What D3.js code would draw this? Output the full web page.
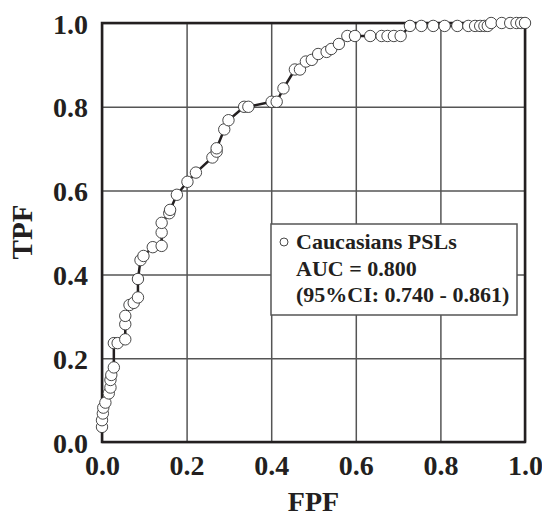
<!DOCTYPE html>
<html>
<head>
<meta charset="utf-8">
<script src="https://cdn.jsdelivr.net/npm/d3@7"></script>
<style>
  body { margin: 0; background: #fff; }
  text { font-family: 'Liberation Serif', 'Times New Roman', serif; font-weight: bold; fill: #231f20; }
</style>
</head>
<body>
<div id="chart"></div>
<script>
var fpf = [0.000, 0.000, 0.002, 0.003, 0.008, 0.016, 0.020, 0.020, 0.022, 0.028,
  0.028, 0.037, 0.055, 0.055, 0.055, 0.065, 0.075, 0.085, 0.085, 0.091,
  0.098, 0.120, 0.141, 0.141, 0.141, 0.159, 0.161, 0.177, 0.202, 0.222,
  0.261, 0.271, 0.271, 0.289, 0.299, 0.336, 0.346, 0.401, 0.413, 0.429,
  0.456, 0.468, 0.482, 0.496, 0.511, 0.531, 0.542, 0.560, 0.580, 0.598,
  0.634, 0.661, 0.675, 0.690, 0.706, 0.728, 0.755, 0.783, 0.810, 0.840,
  0.866, 0.882, 0.894, 0.904, 0.912, 0.920, 0.945, 0.965, 0.980, 0.991, 1.000];
var tpf = [0.036, 0.052, 0.068, 0.082, 0.094, 0.116, 0.130, 0.148, 0.160, 0.178,
  0.236, 0.236, 0.245, 0.281, 0.301, 0.327, 0.332, 0.345, 0.389, 0.434,
  0.444, 0.465, 0.468, 0.500, 0.523, 0.546, 0.554, 0.590, 0.621, 0.643,
  0.679, 0.693, 0.701, 0.746, 0.768, 0.800, 0.800, 0.812, 0.812, 0.844,
  0.889, 0.889, 0.908, 0.912, 0.926, 0.931, 0.938, 0.950, 0.969, 0.969,
  0.969, 0.969, 0.969, 0.969, 0.969, 0.993, 0.993, 0.993, 0.993, 0.993,
  0.993, 0.993, 0.993, 0.993, 0.993, 1.000, 1.000, 1.000, 1.000, 1.000, 1.000];
var ticks = [0.0, 0.2, 0.4, 0.6, 0.8, 1.0];
var legendLines = ['Caucasians PSLs', 'AUC = 0.800', '(95%CI: 0.740 - 0.861)'];

var margin = {top: 23, right: 17, bottom: 75, left: 102};
var width = 542 - margin.left - margin.right;
var height = 517 - margin.top - margin.bottom;

var x = d3.scaleLinear().domain([0, 1]).range([0, width]);
var y = d3.scaleLinear().domain([0, 1]).range([height, 0]);

var svg = d3.select('#chart').append('svg')
  .attr('width', 542)
  .attr('height', 517)
  .append('g')
  .attr('transform', 'translate(' + margin.left + ',' + margin.top + ')');

// grid
svg.append('g')
  .attr('class', 'grid')
  .call(d3.axisBottom(x).tickValues(ticks).tickSize(height).tickFormat(''))
  .call(function(g) {
    g.select('.domain').remove();
    g.selectAll('line').attr('stroke', '#555').attr('stroke-width', 1.5);
  });
svg.append('g')
  .attr('class', 'grid')
  .call(d3.axisLeft(y).tickValues(ticks).tickSize(-width).tickFormat(''))
  .call(function(g) {
    g.select('.domain').remove();
    g.selectAll('line').attr('stroke', '#555').attr('stroke-width', 1.5);
  });

// frame
svg.append('rect')
  .attr('width', width)
  .attr('height', height)
  .attr('fill', 'none')
  .attr('stroke', '#231f20')
  .attr('stroke-width', 2.5);

// axis labels
var xAxis = svg.append('g')
  .attr('transform', 'translate(0,' + height + ')')
  .call(d3.axisBottom(x).tickValues(ticks).tickSize(0).tickPadding(0).tickFormat(d3.format('.1f')));
xAxis.select('.domain').remove();
xAxis.selectAll('text')
  .attr('y', 33)
  .attr('dy', null)
  .style('font-size', '28px');

var yAxis = svg.append('g')
  .call(d3.axisLeft(y).tickValues(ticks).tickSize(0).tickPadding(0).tickFormat(d3.format('.1f')));
yAxis.select('.domain').remove();
yAxis.selectAll('text')
  .attr('x', -14)
  .attr('dy', 10)
  .style('font-size', '28px');

svg.append('text')
  .attr('x', width / 2)
  .attr('y', height + 69)
  .style('text-anchor', 'middle')
  .style('font-size', '28px')
  .text('FPF');

svg.append('text')
  .attr('transform', 'translate(' + (32 - margin.left) + ',' + (232 - margin.top) + ') rotate(-90)')
  .style('text-anchor', 'middle')
  .style('font-size', '29px')
  .text('TPF');

// roc curve
var data = fpf.map(function(d, i) { return {fpf: d, tpf: tpf[i]}; });

svg.append('path')
  .datum(data)
  .attr('fill', 'none')
  .attr('stroke', '#231f20')
  .attr('stroke-width', 2.5)
  .attr('d', d3.line().x(function(d) { return x(d.fpf); }).y(function(d) { return y(d.tpf); }));

svg.append('g')
  .selectAll('circle')
  .data(data)
  .enter().append('circle')
  .attr('cx', function(d) { return x(d.fpf); })
  .attr('cy', function(d) { return y(d.tpf); })
  .attr('r', 5.7)
  .attr('fill', '#fff')
  .attr('stroke', '#333')
  .attr('stroke-width', 0.9);

// legend
var legend = svg.append('g')
  .attr('transform', 'translate(' + (271 - margin.left) + ',' + (224 - margin.top) + ')');

legend.append('rect')
  .attr('width', 246)
  .attr('height', 91)
  .attr('fill', '#fff')
  .attr('stroke', '#555')
  .attr('stroke-width', 1.5);

legend.append('circle')
  .attr('cx', 13)
  .attr('cy', 18)
  .attr('r', 4)
  .attr('fill', '#fff')
  .attr('stroke', '#333')
  .attr('stroke-width', 0.9);

legend.selectAll('.legend-text')
  .data(legendLines)
  .enter().append('text')
  .attr('class', 'legend-text')
  .attr('x', 25)
  .attr('y', function(d, i) { return 25 + i * 26.5; })
  .style('font-size', '22px')
  .text(function(d) { return d; });
</script>
</body>
</html>
